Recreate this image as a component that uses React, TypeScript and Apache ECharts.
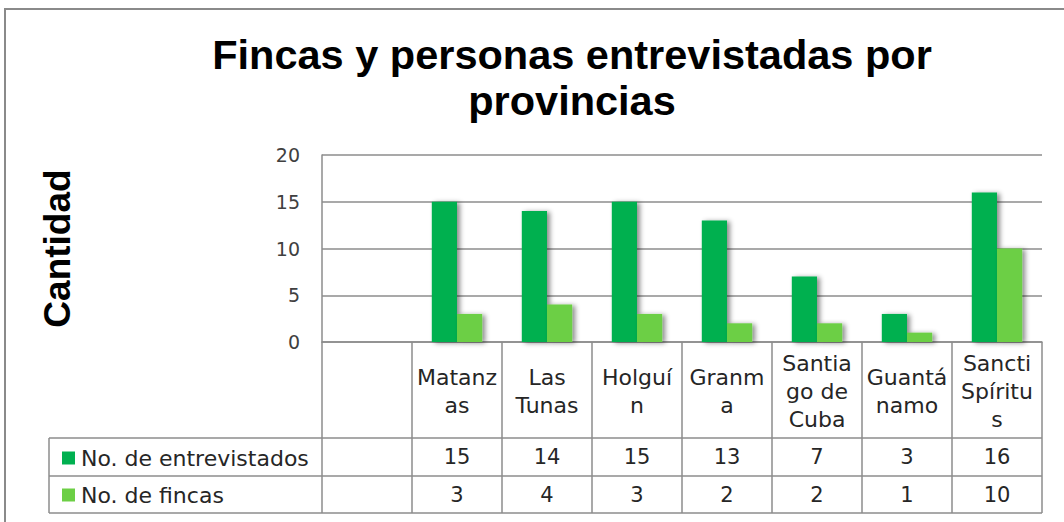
import { useEffect, useRef } from 'react';
import * as echarts from 'echarts';

const titleText = 'Fincas y personas entrevistadas por\nprovincias';
const yAxisTitle = 'Cantidad';
const provinces = [
  'Matanz\nas',
  'Las\nTunas',
  'Holguí\nn',
  'Granm\na',
  'Santia\ngo de\nCuba',
  'Guantá\nnamo',
  'Sancti\nSpíritu\ns',
];
const seriesNames = ['No. de entrevistados', 'No. de fincas'];
const entrevistados = [15, 14, 15, 13, 7, 3, 16];
const fincas = [3, 4, 3, 2, 2, 1, 10];
const seriesColors = ['#00b050', '#6ccf45'];
const yMin = 0;
const yMax = 20;
const yStep = 5;

const GRID_LEFT = 322;
const GRID_RIGHT_X = 1042;
const AXIS_Y = 342;
const ROW1_Y = 438;
const ROW2_Y = 476;
const ROW3_Y = 513;
const TABLE_LEFT = 49;
const LINE = '#8c8c8c';
const TABLE_FONT = 'DejaVu Sans';

export default function App() {
  const ref = useRef<HTMLDivElement>(null);

  useEffect(() => {
    document.body.style.margin = '0';
    const chart = echarts.init(ref.current!, null, { renderer: 'svg' });
    const cats = ['', ...provinces];
    const row = (vals: number[]) => ['', ...vals.map(String)];
    const withBlank = (vals: number[]) => [null, ...vals];

    const valueAxis = (vals: number[], margin: number) => ({
      type: 'category',
      gridIndex: 0,
      position: 'bottom',
      data: row(vals),
      axisLine: { show: false },
      axisTick: { show: false },
      splitLine: { show: false },
      axisLabel: {
        interval: 0,
        margin,
        verticalAlign: 'middle',
        fontSize: 21,
        fontFamily: TABLE_FONT,
        color: '#262626',
      },
    });

    const hLine = (y: number) => ({
      type: 'line',
      shape: { x1: TABLE_LEFT, y1: y, x2: GRID_RIGHT_X, y2: y },
      style: { stroke: LINE, lineWidth: 1.5 },
      silent: true,
    });

    const barShadow = {
      shadowBlur: 5,
      shadowOffsetX: 3,
      shadowOffsetY: 1,
      shadowColor: 'rgba(0,0,0,0.45)',
    };

    chart.setOption({
      animation: false,
      backgroundColor: '#ffffff',
      title: {
        text: titleText,
        left: 567,
        top: 26,
        textAlign: 'center',
        textStyle: {
          fontFamily: 'Liberation Sans',
          fontWeight: 'bold',
          fontSize: 41.5,
          lineHeight: 46,
          color: '#000000',
        },
      },
      legend: {
        orient: 'vertical',
        left: 57,
        top: 441,
        itemWidth: 13,
        itemHeight: 13,
        itemGap: 13,
        icon: 'rect',
        data: seriesNames,
        textStyle: {
          fontSize: 22,
          fontFamily: TABLE_FONT,
          color: '#262626',
          lineHeight: 24,
          padding: [0, 0, 0, 1],
        },
      },
      grid: {
        left: GRID_LEFT,
        right: 1064 - GRID_RIGHT_X,
        top: 155,
        bottom: 522 - AXIS_Y,
        containLabel: false,
      },
      xAxis: [
        {
          type: 'category',
          position: 'bottom',
          data: cats,
          axisLine: { show: true, lineStyle: { color: LINE, width: 1.5 } },
          axisTick: { show: true, length: ROW3_Y - AXIS_Y, lineStyle: { color: LINE, width: 1.5 } },
          splitLine: { show: false },
          axisLabel: {
            interval: 0,
            margin: 49,
            verticalAlign: 'middle',
            lineHeight: 28,
            fontSize: 22,
            fontFamily: TABLE_FONT,
            color: '#262626',
          },
        },
        valueAxis(entrevistados, (ROW1_Y + ROW2_Y) / 2 - AXIS_Y),
        valueAxis(fincas, (ROW2_Y + ROW3_Y) / 2 - AXIS_Y),
      ],
      yAxis: {
        type: 'value',
        min: yMin,
        max: yMax,
        interval: yStep,
        axisLine: { show: true, lineStyle: { color: LINE, width: 1.5 } },
        axisTick: { show: false },
        splitLine: { lineStyle: { color: LINE, width: 1.5 } },
        axisLabel: {
          margin: 22,
          fontSize: 19,
          fontFamily: TABLE_FONT,
          color: '#404040',
        },
        name: yAxisTitle,
        nameLocation: 'middle',
        nameRotate: 90,
        nameGap: 246,
        nameTextStyle: {
          fontFamily: 'Liberation Sans',
          fontWeight: 'bold',
          fontSize: 37,
          color: '#000000',
        },
      },
      series: [
        {
          type: 'bar',
          name: seriesNames[0],
          data: withBlank(entrevistados),
          barGap: '0%',
          barCategoryGap: '44%',
          itemStyle: { color: seriesColors[0], ...barShadow },
        },
        {
          type: 'bar',
          name: seriesNames[1],
          data: withBlank(fincas),
          barGap: '0%',
          barCategoryGap: '44%',
          itemStyle: { color: seriesColors[1], ...barShadow },
        },
      ],
      graphic: [
        {
          type: 'rect',
          shape: { x: 5, y: 9, width: 1120, height: 620 },
          style: { fill: 'none', stroke: '#8a8a8a', lineWidth: 2 },
          silent: true,
        },
        hLine(ROW1_Y),
        hLine(ROW2_Y),
        hLine(ROW3_Y),
        {
          type: 'line',
          shape: { x1: TABLE_LEFT, y1: ROW1_Y, x2: TABLE_LEFT, y2: ROW3_Y },
          style: { stroke: LINE, lineWidth: 1.5 },
          silent: true,
        },
      ],
    });

    return () => chart.dispose();
  }, []);

  return <div ref={ref} style={{ width: 1064, height: 522 }} />;
}
